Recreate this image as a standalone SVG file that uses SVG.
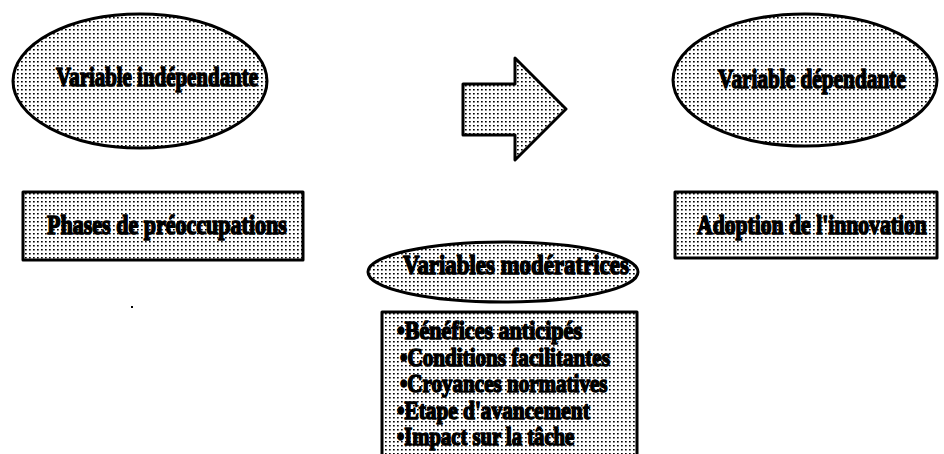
<svg xmlns="http://www.w3.org/2000/svg" width="944" height="454" viewBox="0 0 944 454">
  <defs>
    <pattern id="dots" x="0" y="0" width="4" height="4" patternUnits="userSpaceOnUse">
      <rect width="4" height="4" fill="#ffffff"/>
      <rect x="1" y="1" width="1.7" height="1.5" fill="#000000"/>
    </pattern>
  </defs>
  <style>
    .shape { fill: url(#dots); stroke: #000; stroke-width: 3; stroke-linejoin: round; }
    .lbl { font-family: "Liberation Serif", "Times New Roman", serif; font-weight: bold; fill: #000; stroke: #000; stroke-width: 1.6; stroke-linejoin: round; }
  </style>
  <rect width="944" height="454" fill="#ffffff"/>

  <g id="connectors">
    <polygon class="shape" points="463,84 515,84 515,58 566,109 515,160 515,135 463,135"/>
  </g>

  <g id="var-independante">
    <ellipse class="shape" cx="140" cy="81" rx="127" ry="67"/>
    <text class="lbl" transform="translate(56,86) scale(0.747,1)" font-size="28">Variable indépendante</text>
  </g>

  <g id="var-dependante">
    <ellipse class="shape" cx="805" cy="80" rx="132" ry="66"/>
    <text class="lbl" transform="translate(718,88) scale(0.76,1)" font-size="28">Variable dépendante</text>
  </g>

  <g id="phases">
    <rect class="shape" x="23" y="192" width="280" height="68"/>
    <text class="lbl" transform="translate(47,234) scale(0.787,1)" font-size="28">Phases de préoccupations</text>
  </g>

  <g id="adoption">
    <rect class="shape" x="675" y="192" width="262" height="66"/>
    <text class="lbl" transform="translate(697,234) scale(0.774,1)" font-size="28">Adoption de l'innovation</text>
  </g>

  <g id="var-moderatrices">
    <ellipse class="shape" cx="503" cy="272" rx="135" ry="30"/>
    <text class="lbl" transform="translate(403,274) scale(0.817,1)" font-size="28">Variables modératrices</text>
  </g>

  <g id="liste-moderatrices">
    <rect class="shape" x="382" y="312" width="255" height="150"/>
    <text class="lbl" transform="translate(397,339) scale(0.85,1)" font-size="26">•Bénéfices anticipés</text>
    <text class="lbl" transform="translate(400,366) scale(0.813,1)" font-size="26">•Conditions facilitantes</text>
    <text class="lbl" transform="translate(400,392) scale(0.81,1)" font-size="26">•Croyances normatives</text>
    <text class="lbl" transform="translate(397,419) scale(0.82,1)" font-size="26">•Etape d'avancement</text>
    <text class="lbl" transform="translate(397,445) scale(0.795,1)" font-size="26">•Impact sur la tâche</text>
  </g>

  <rect x="131" y="306" width="2" height="2" fill="#000"/>
</svg>
